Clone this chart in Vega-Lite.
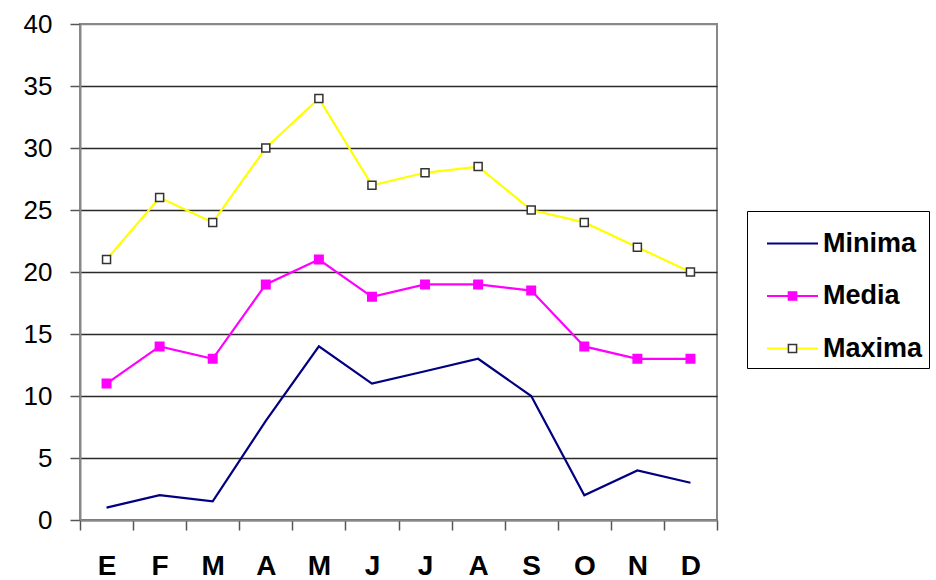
{
  "$schema": "https://vega.github.io/schema/vega-lite/v6.json",
  "width": 637,
  "height": 496,
  "autosize": {"type": "none"},
  "padding": {"left": 80, "top": 24, "right": 219, "bottom": 60},
  "background": "white",
  "config": {
    "font": "Liberation Sans",
    "view": {"stroke": "#888888", "strokeWidth": 2}
  },
  "data": {
    "values": [
      {"mes": "Ene", "serie": "Minima", "valor": 1},
      {"mes": "Feb", "serie": "Minima", "valor": 2},
      {"mes": "Mar", "serie": "Minima", "valor": 1.5},
      {"mes": "Abr", "serie": "Minima", "valor": 8},
      {"mes": "May", "serie": "Minima", "valor": 14},
      {"mes": "Jun", "serie": "Minima", "valor": 11},
      {"mes": "Jul", "serie": "Minima", "valor": 12},
      {"mes": "Ago", "serie": "Minima", "valor": 13},
      {"mes": "Sep", "serie": "Minima", "valor": 10},
      {"mes": "Oct", "serie": "Minima", "valor": 2},
      {"mes": "Nov", "serie": "Minima", "valor": 4},
      {"mes": "Dic", "serie": "Minima", "valor": 3},
      {"mes": "Ene", "serie": "Media", "valor": 11},
      {"mes": "Feb", "serie": "Media", "valor": 14},
      {"mes": "Mar", "serie": "Media", "valor": 13},
      {"mes": "Abr", "serie": "Media", "valor": 19},
      {"mes": "May", "serie": "Media", "valor": 21},
      {"mes": "Jun", "serie": "Media", "valor": 18},
      {"mes": "Jul", "serie": "Media", "valor": 19},
      {"mes": "Ago", "serie": "Media", "valor": 19},
      {"mes": "Sep", "serie": "Media", "valor": 18.5},
      {"mes": "Oct", "serie": "Media", "valor": 14},
      {"mes": "Nov", "serie": "Media", "valor": 13},
      {"mes": "Dic", "serie": "Media", "valor": 13},
      {"mes": "Ene", "serie": "Maxima", "valor": 21},
      {"mes": "Feb", "serie": "Maxima", "valor": 26},
      {"mes": "Mar", "serie": "Maxima", "valor": 24},
      {"mes": "Abr", "serie": "Maxima", "valor": 30},
      {"mes": "May", "serie": "Maxima", "valor": 34},
      {"mes": "Jun", "serie": "Maxima", "valor": 27},
      {"mes": "Jul", "serie": "Maxima", "valor": 28},
      {"mes": "Ago", "serie": "Maxima", "valor": 28.5},
      {"mes": "Sep", "serie": "Maxima", "valor": 25},
      {"mes": "Oct", "serie": "Maxima", "valor": 24},
      {"mes": "Nov", "serie": "Maxima", "valor": 22},
      {"mes": "Dic", "serie": "Maxima", "valor": 20}
    ]
  },
  "encoding": {
    "x": {
      "field": "mes",
      "type": "ordinal",
      "sort": ["Ene", "Feb", "Mar", "Abr", "May", "Jun", "Jul", "Ago", "Sep", "Oct", "Nov", "Dic"],
      "scale": {"type": "band", "paddingInner": 0, "paddingOuter": 0},
      "bandPosition": 0.5,
      "axis": {
        "title": null,
        "labelExpr": "upper(substring(datum.label, 0, 1))",
        "labelAngle": 0,
        "labelFont": "Liberation Sans",
        "labelFontSize": 28,
        "labelFontWeight": "bold",
        "labelColor": "#000000",
        "labelPadding": 22,
        "tickBand": "extent",
        "tickSize": 10,
        "tickColor": "#555555",
        "tickWidth": 1.5,
        "domainColor": "#888888",
        "domainWidth": 2,
        "grid": false
      }
    },
    "y": {
      "field": "valor",
      "type": "quantitative",
      "scale": {"domain": [0, 40], "nice": false},
      "axis": {
        "title": null,
        "values": [0, 5, 10, 15, 20, 25, 30, 35, 40],
        "labelFont": "Liberation Sans",
        "labelFontSize": 26,
        "labelColor": "#000000",
        "labelPadding": 18,
        "tickSize": 10,
        "tickColor": "#555555",
        "tickWidth": 1.5,
        "domainColor": "#888888",
        "domainWidth": 2,
        "grid": true,
        "gridColor": {"condition": {"test": "datum.value == 40", "value": "#888888"}, "value": "#2a2a2a"},
        "gridWidth": 1.5,
        "gridOpacity": 1
      }
    }
  },
  "layer": [
    {
      "mark": {"type": "line", "strokeWidth": 2.2},
      "encoding": {
        "color": {
          "field": "serie",
          "type": "nominal",
          "scale": {
            "domain": ["Minima", "Media", "Maxima", "otra"],
            "range": ["#000080", "#FF00FF", "#FFFF00", "#000000"]
          },
          "legend": {
            "orient": "none",
            "legendX": 667,
            "legendY": 187,
            "title": null,
            "values": ["Minima", "Media", "Maxima"],
            "symbolType": "stroke",
            "symbolSize": 2601,
            "symbolStrokeWidth": 2,
            "symbolOffset": 13,
            "labelFont": "Liberation Sans",
            "labelFontSize": 27,
            "labelFontWeight": "bold",
            "labelColor": "#000000",
            "labelOffset": 4,
            "labelLimit": 300,
            "padding": 6,
            "rowPadding": 12.5,
            "strokeColor": "#000000"
          }
        }
      }
    },
    {
      "transform": [{"filter": "datum.serie !== 'Minima'"}],
      "mark": {"type": "point", "shape": "square", "filled": true, "opacity": 1, "strokeWidth": 1.5},
      "encoding": {
        "fill": {
          "field": "serie",
          "type": "nominal",
          "scale": {"domain": ["Minima", "Media", "Maxima"], "range": ["transparent", "#FF00FF", "#FFFFFF"]},
          "legend": {
            "orient": "none",
            "legendX": 667,
            "legendY": 187,
            "title": null,
            "symbolType": "M-0.16,-0.16H0.16V0.16H-0.16Z",
            "symbolSize": 2601,
            "symbolStrokeWidth": 1.5,
            "symbolOffset": 13,
            "labelFont": "Liberation Sans",
            "labelFontSize": 27,
            "labelFontWeight": "bold",
            "labelColor": "transparent",
            "labelOffset": 4,
            "labelLimit": 300,
            "padding": 6,
            "rowPadding": 12.5
          }
        },
        "stroke": {
          "field": "serie",
          "type": "nominal",
          "scale": {"domain": ["Minima", "Media", "Maxima"], "range": ["transparent", "#FF00FF", "#333333"]}
        },
        "size": {
          "field": "serie",
          "type": "nominal",
          "scale": {"domain": ["Media", "Maxima"], "range": [72, 64]},
          "legend": null
        }
      }
    }
  ]
}
